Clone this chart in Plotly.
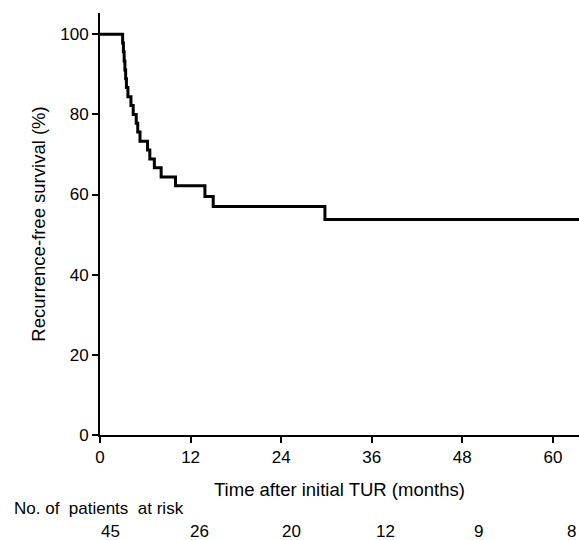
import plotly.graph_objects as go

# Kaplan-Meier step data (months, % recurrence-free)
times = [0, 3.0, 3.1, 3.2, 3.3, 3.4, 3.5, 3.7, 4.1, 4.4, 4.8, 5.0, 5.3, 6.3, 6.6, 7.2, 8.1, 10.0, 13.9, 15.0, 29.8, 63.5]
survival = [100, 97.8, 95.6, 93.3, 91.1, 88.9, 86.7, 84.4, 82.2, 80.0, 77.8, 75.6, 73.3, 71.1, 68.9, 66.7, 64.4, 62.2, 59.5, 57.0, 53.8, 53.8]

x_ticks = [0, 12, 24, 36, 48, 60]
y_ticks = [0, 20, 40, 60, 80, 100]
at_risk = [45, 26, 20, 12, 9, 8]
at_risk_shift = [10, 9, 10, 14, 16, 19]

FONT = "Liberation Sans, Arial, Helvetica, sans-serif"

fig = go.Figure()
fig.add_trace(go.Scatter(
    x=times, y=survival, mode="lines", line=dict(shape="hv", color="black", width=3),
    showlegend=False, hoverinfo="skip"))

annotations = []
annotations.append(dict(text="Time after initial TUR (months)", xref="paper", yref="paper",
                        x=0.499, y=-0.130, xanchor="center", yanchor="middle",
                        showarrow=False, font=dict(size=18.5, color="black", family=FONT)))
annotations.append(dict(text="No. of  patients  at risk", xref="paper", yref="paper",
                        x=-0.184, y=-0.173, xanchor="left", yanchor="middle",
                        showarrow=False, font=dict(size=17, color="black", family=FONT)))
for xv, n, s in zip(x_ticks, at_risk, at_risk_shift):
    annotations.append(dict(text=str(n), xref="x", yref="paper", x=xv, xshift=s,
                            y=-0.229, xanchor="center", yanchor="middle",
                            showarrow=False, font=dict(size=17, color="black", family=FONT)))

fig.update_layout(
    width=579, height=540,
    margin=dict(l=100, r=0, t=13, b=105),
    plot_bgcolor="white", paper_bgcolor="white",
    font=dict(family=FONT, size=17, color="black"),
    annotations=annotations,
    xaxis=dict(range=[0, 63.46], tickvals=x_ticks, ticks="outside", ticklen=6, tickwidth=1.5,
               tickcolor="black", showline=True, linecolor="black", linewidth=2,
               showgrid=False, zeroline=False, fixedrange=True),
    yaxis=dict(range=[0, 105.3], tickvals=y_ticks, ticks="outside", ticklen=6, tickwidth=1.5,
               tickcolor="black", showline=True, linecolor="black", linewidth=2,
               showgrid=False, zeroline=False, fixedrange=True,
               title=dict(text="Recurrence-free survival (%)", standoff=10,
                          font=dict(size=18.5, family=FONT))),
)

fig.write_html("out.html", config={"displayModeBar": False},
               post_script="document.body.style.margin='0';document.body.style.overflow='hidden';")
